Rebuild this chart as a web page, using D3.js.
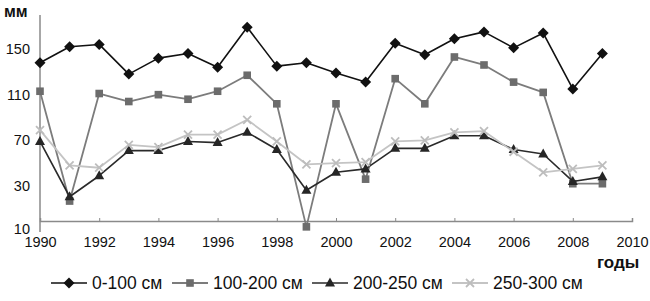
<!DOCTYPE html>
<html>
<head>
<meta charset="utf-8">
<script src="https://cdn.jsdelivr.net/npm/d3@7"></script>
<style>
  html, body { margin: 0; padding: 0; background: #fff; }
  svg { display: block; font-family: "Liberation Sans", Arial, sans-serif; }
</style>
</head>
<body>
<svg id="chart" width="650" height="301"></svg>
<script>
// ─── Data ────────────────────────────────────────────────────────────────────
const years = d3.range(1990, 2010);

const s0_100   = [138, 152, 154, 128, 142, 146, 134, 169, 135, 138, 129, 121, 155, 145, 159, 165, 151, 164, 115, 146];
const s100_200 = [113, 23, 111, 104, 110, 106, 113, 127, 102, 11, 102, 36, 124, 102, 143, 136, 121, 112, 32, 32];
const s200_250 = [69, 25, 39, 61, 61, 69, 68, 77, 62, 28, 42, 45, 63, 63, 74, 74, 62, 58, 34, 38];
const s250_300 = [79, 48, 46, 66, 64, 75, 75, 88, 69, 49, 50, 51, 69, 70, 77, 78, 60, 42, 45, 48];

const seriesNames = ['0-100 см', '100-200 см', '200-250 см', '250-300 см'];
const yTicks = [10, 30, 70, 110, 150];
const xTicks = d3.range(1990, 2011, 2);

// ─── Style ───────────────────────────────────────────────────────────────────
const theme = {
  axis: '#8a8a8a',
  text: '#111',
  font: '"Liberation Sans", Arial, sans-serif',
  fontSize: '14.5px',
};

const series = [
  { name: seriesNames[0], values: s0_100,   line: '#111',    fill: '#111',    shape: 'diamond',  width: 1.6 },
  { name: seriesNames[1], values: s100_200, line: '#7c7c7c', fill: '#6c6c6c', shape: 'square',   width: 1.8 },
  { name: seriesNames[2], values: s200_250, line: '#2a2a2a', fill: '#262626', shape: 'triangle', width: 1.6 },
  { name: seriesNames[3], values: s250_300, line: '#c4c4c4', fill: '#bdbdbd', shape: 'cross',    width: 1.8 },
];

// ─── Scales ──────────────────────────────────────────────────────────────────
const svg = d3.select('#chart');
const axisY = 221;   // where the year axis crosses

const x = d3.scaleLinear().domain([1990, 2010]).range([40, 632]);
// lower segment of the value axis is stretched in the source picture
const y = d3.scaleLinear().domain([10, 30, 150]).range([229, 186, 49]);

// ─── Axes ────────────────────────────────────────────────────────────────────
svg.append('line')
  .attr('x1', x(1990)).attr('x2', x(1990))
  .attr('y1', 15).attr('y2', y(10) + 3)
  .attr('stroke', theme.axis).attr('stroke-width', 1.5);

svg.append('g')
  .attr('transform', `translate(${x(1990)},0)`)
  .call(d3.axisLeft(y).tickValues(yTicks).tickSize(0).tickPadding(10).tickFormat(d3.format('d')))
  .call(sel => {
    sel.select('.domain').remove();
    sel.selectAll('text')
      .attr('fill', theme.text)
      .style('font-family', theme.font)
      .style('font-size', theme.fontSize);
  });

svg.append('g')
  .attr('transform', `translate(0,${axisY})`)
  .call(d3.axisBottom(x).tickValues(xTicks).tickSize(-3).tickFormat(d3.format('d')))
  .call(sel => {
    sel.select('.domain').attr('stroke', theme.axis).attr('stroke-width', 1.5);
    sel.selectAll('line').attr('stroke', theme.axis);
    sel.selectAll('text')
      .attr('y', 16)
      .attr('fill', theme.text)
      .style('font-family', theme.font)
      .style('font-size', theme.fontSize);
  });

svg.append('text')
  .attr('x', 4).attr('y', 17)
  .attr('font-weight', 'bold').attr('font-size', 16)
  .attr('fill', theme.text)
  .text('мм');

svg.append('text')
  .attr('x', 597).attr('y', 268)
  .attr('font-weight', 'bold').attr('font-size', 17)
  .attr('fill', theme.text)
  .text('годы');

// ─── Markers ─────────────────────────────────────────────────────────────────
function drawMarker(g, shape, color) {
  if (shape === 'diamond') {
    g.append('path').attr('d', 'M0,-5.5L5.5,0L0,5.5L-5.5,0Z').attr('fill', color);
  } else if (shape === 'square') {
    g.append('rect').attr('x', -3.8).attr('y', -3.8).attr('width', 7.6).attr('height', 7.6).attr('fill', color);
  } else if (shape === 'triangle') {
    g.append('path').attr('d', 'M0,-5.5L5,3.5L-5,3.5Z').attr('fill', color);
  } else {
    g.append('path').attr('d', 'M-4,-4L4,4M-4,4L4,-4')
      .attr('stroke', color).attr('stroke-width', 1.8).attr('fill', 'none');
  }
}

// ─── Lines ───────────────────────────────────────────────────────────────────
const line = d3.line().x((d, i) => x(years[i])).y(d => y(d));

series.forEach(s => {
  const g = svg.append('g');
  g.append('path')
    .attr('d', line(s.values))
    .attr('fill', 'none')
    .attr('stroke', s.line)
    .attr('stroke-width', s.width)
    .attr('stroke-linejoin', 'round');
  s.values.forEach((v, i) => {
    const m = g.append('g').attr('transform', `translate(${x(years[i])},${y(v)})`);
    drawMarker(m, s.shape, s.fill);
  });
});

// ─── Legend ──────────────────────────────────────────────────────────────────
const legendX = [51, 172, 312, 452];
const legend = svg.append('g').attr('transform', 'translate(0,283)');
series.forEach((s, i) => {
  const g = legend.append('g').attr('transform', `translate(${legendX[i]},0)`);
  g.append('line').attr('x1', 0).attr('x2', 36)
    .attr('stroke', s.line).attr('stroke-width', s.width);
  drawMarker(g.append('g').attr('transform', 'translate(18,0)'), s.shape, s.fill);
  g.append('text')
    .attr('x', 41).attr('y', 0).attr('dy', '0.35em')
    .attr('font-size', 17.5)
    .attr('fill', theme.text)
    .text(s.name);
});
</script>
</body>
</html>
